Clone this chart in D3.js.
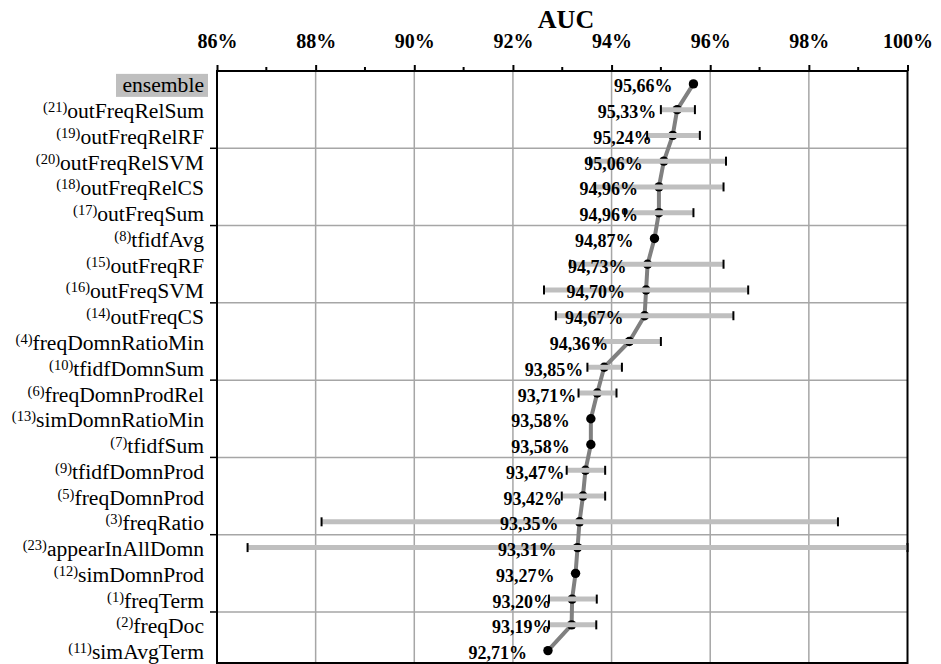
<!DOCTYPE html>
<html>
<head>
<meta charset="utf-8">
<script src="https://cdn.jsdelivr.net/npm/d3@7"></script>
<style>
  html, body { margin: 0; padding: 0; background: #fff; }
  svg { display: block; }
</style>
</head>
<body>
<svg id="chart" width="941" height="664"></svg>
<script>
const categories = ["ensemble","outFreqRelSum","outFreqRelRF","outFreqRelSVM","outFreqRelCS","outFreqSum","tfidfAvg","outFreqRF","outFreqSVM","outFreqCS","freqDomnRatioMin","tfidfDomnSum","freqDomnProdRel","simDomnRatioMin","tfidfSum","tfidfDomnProd","freqDomnProd","freqRatio","appearInAllDomn","simDomnProd","freqTerm","freqDoc","simAvgTerm"];
const refNumbers = [null,21,19,20,18,17,8,15,16,14,4,10,6,13,7,9,5,3,23,12,1,2,11];
const auc = [95.66,95.33,95.24,95.06,94.96,94.96,94.87,94.73,94.70,94.67,94.36,93.85,93.71,93.58,93.58,93.47,93.42,93.35,93.31,93.27,93.20,93.19,92.71];
const lows = [null,95.00,94.72,93.56,93.66,94.27,null,93.16,92.63,92.87,93.72,93.51,93.33,null,null,93.09,92.99,88.12,86.62,null,92.73,92.73,null];
const highs = [null,95.69,95.79,96.32,96.27,95.66,null,96.27,96.77,96.47,95.00,94.21,94.10,null,null,93.87,93.87,98.59,100.00,null,93.70,93.69,null];
const tickValues = [86,88,90,92,94,96,98,100];
const minorTicks = [87,89,91,93,95,97,99];
const title = "AUC";

(function(){
const rows = categories.map((c,i)=>({cat:c, ref:refNumbers[i], v:auc[i], lo:lows[i], hi:highs[i]}));

const svg = d3.select("#chart");
const pL = 217, pR = 907.5, pT = 71, pB = 663.5;
const serif = "'Liberation Serif','Times New Roman',serif";

const x = d3.scaleLinear().domain([86,100]).range([pL,pR]);
const y = d3.scaleBand().domain(categories).range([pT,pB]).padding(0);
const yc = c => y(c) + y.bandwidth()/2;

// vertical gridlines
svg.append("g").selectAll("line").data(tickValues.filter(t=>t>86 && t<100)).join("line")
  .attr("x1",d=>x(d)).attr("x2",d=>x(d)).attr("y1",pT).attr("y2",pB)
  .attr("stroke","#a6a6a6").attr("stroke-width",1.5);

// horizontal gridlines every 3 rows
const hLines = categories.map((c,i)=>i).filter(i=>i>0 && i%3===0).map(i=>y(categories[i]));
svg.append("g").selectAll("line").data(hLines).join("line")
  .attr("x1",pL).attr("x2",pR).attr("y1",d=>d).attr("y2",d=>d)
  .attr("stroke","#a6a6a6").attr("stroke-width",1.5);
svg.append("g").selectAll("line").data(hLines).join("line")
  .attr("x1",pL-7).attr("x2",pL).attr("y1",d=>d).attr("y2",d=>d)
  .attr("stroke","#000").attr("stroke-width",1.5);

// top axis
const axTop = d3.axisTop(x).tickValues(tickValues).tickSize(6).tickFormat(d=>d+"%");
const gAx = svg.append("g").attr("transform",`translate(0,${pT})`).call(axTop);
gAx.select(".domain").remove();
gAx.selectAll(".tick line").attr("stroke","#000").attr("stroke-width",2);
gAx.selectAll(".tick text").attr("font-family",serif).attr("font-weight","bold")
  .attr("font-size",20).attr("fill","#000").attr("y",-23).attr("dy",0);
svg.append("g").selectAll("line").data(minorTicks).join("line")
  .attr("x1",d=>x(d)).attr("x2",d=>x(d)).attr("y1",pT-4).attr("y2",pT)
  .attr("stroke","#000").attr("stroke-width",2);

// frame
svg.append("rect").attr("x",pL).attr("y",pT).attr("width",pR-pL).attr("height",pB-pT-0.5)
  .attr("fill","none").attr("stroke","#000").attr("stroke-width",2);

// title
svg.append("text").attr("x",566).attr("y",28).attr("text-anchor","middle")
  .attr("font-family",serif).attr("font-weight","bold").attr("font-size",26).text(title);

// category labels
svg.append("rect").attr("x",116).attr("y",yc(categories[0])-10).attr("width",92).attr("height",23)
  .attr("fill","#bfbfbf");
const lab = svg.append("g").selectAll("text").data(rows).join("text")
  .attr("x",204).attr("y",d=>yc(d.cat)+8.5).attr("text-anchor","end")
  .attr("font-family",serif).attr("font-size",21.6).attr("fill","#000");
lab.each(function(d){
  const t = d3.select(this);
  if (d.ref !== null) {
    t.append("tspan").attr("font-size",14.5).attr("dy",-6).text("("+d.ref+")");
    t.append("tspan").attr("dy",6).text(d.cat);
  } else {
    t.append("tspan").text(d.cat);
  }
});

// connecting line
svg.append("path").datum(rows)
  .attr("d", d3.line().x(d=>x(d.v)).y(d=>yc(d.cat)))
  .attr("fill","none").attr("stroke","#808080").attr("stroke-width",4).attr("stroke-linejoin","round");

// dots
svg.append("g").selectAll("circle").data(rows).join("circle")
  .attr("cx",d=>x(d.v)).attr("cy",d=>yc(d.cat)).attr("r",4.7).attr("fill","#000");

// error bars
const eb = rows.filter(d=>d.lo!==null);
svg.append("g").selectAll("line").data(eb).join("line")
  .attr("x1",d=>x(d.lo)).attr("x2",d=>x(d.hi)).attr("y1",d=>yc(d.cat)).attr("y2",d=>yc(d.cat))
  .attr("stroke","#bfbfbf").attr("stroke-width",5);
const caps = [];
eb.forEach(d=>{ caps.push({cat:d.cat,v:d.lo}); caps.push({cat:d.cat,v:d.hi}); });
svg.append("g").selectAll("line").data(caps).join("line")
  .attr("x1",d=>x(d.v)).attr("x2",d=>x(d.v)).attr("y1",d=>yc(d.cat)-4.5).attr("y2",d=>yc(d.cat)+4.5)
  .attr("stroke","#000").attr("stroke-width",2);

// value labels
svg.append("g").selectAll("text").data(rows).join("text")
  .attr("x",d=>x(d.v)-21).attr("y",d=>yc(d.cat)+8.5).attr("text-anchor","end")
  .attr("font-family",serif).attr("font-weight","bold").attr("font-size",18).attr("fill","#000")
  .text(d=>d.v.toFixed(2).replace(".",",")+"%");
})();
</script>
</body>
</html>
